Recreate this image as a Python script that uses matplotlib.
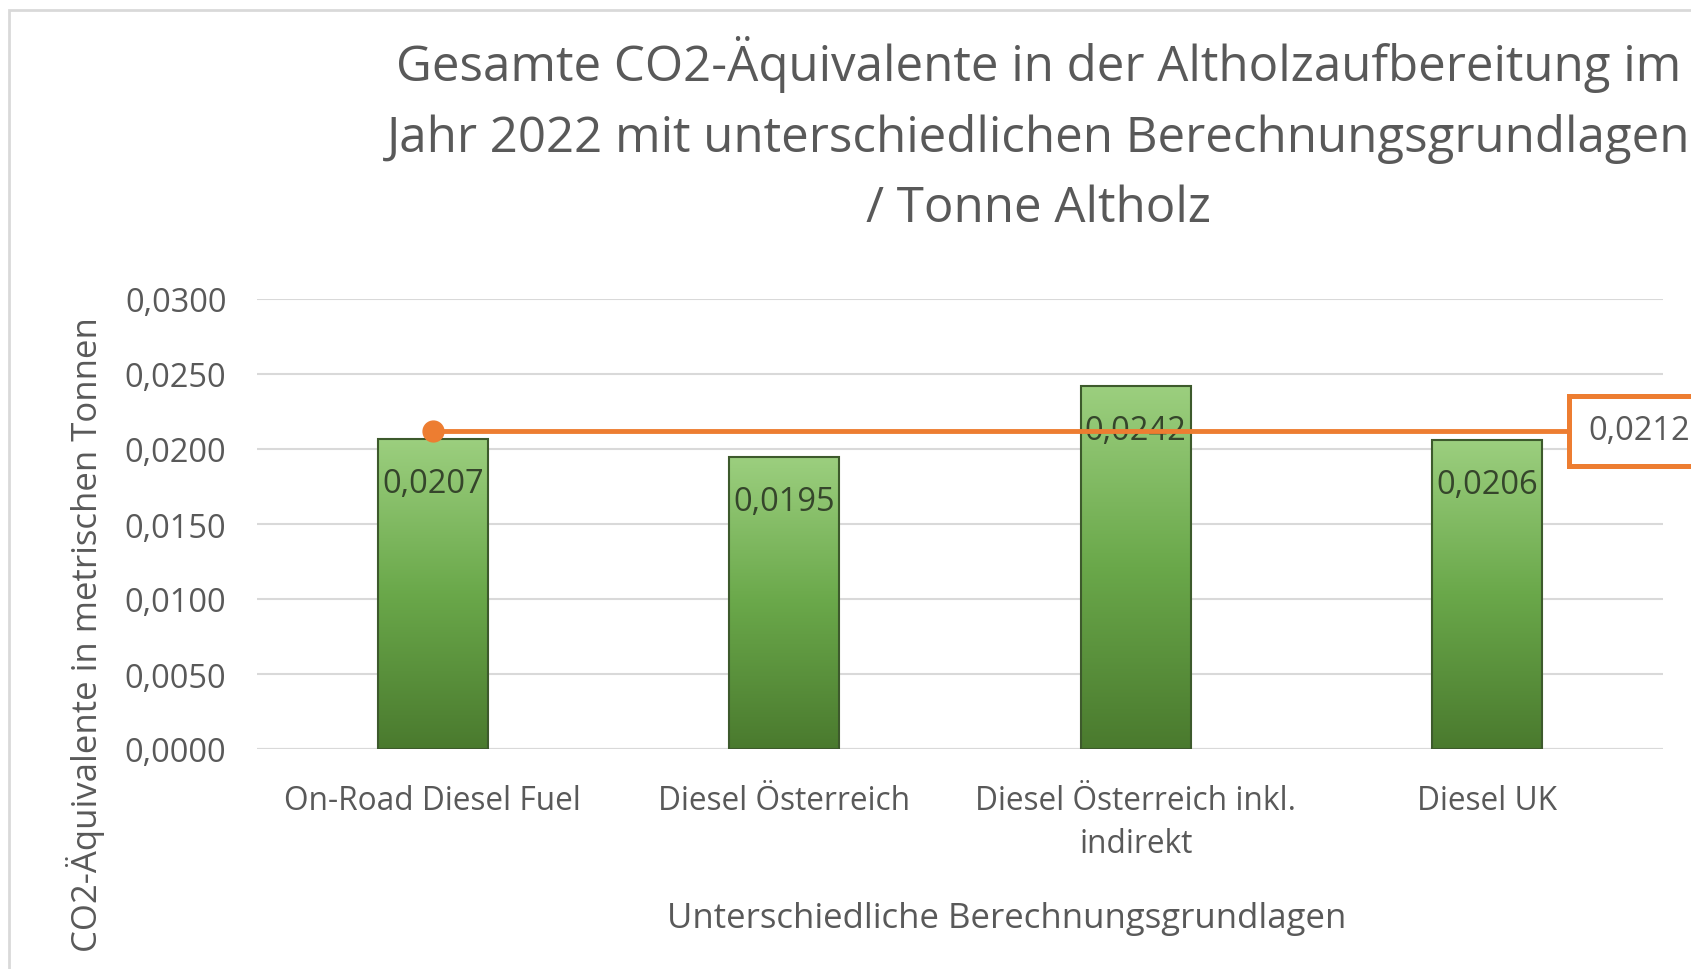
import numpy as np
import matplotlib.pyplot as plt
from matplotlib.patches import Rectangle
from matplotlib.colors import LinearSegmentedColormap

plt.rcParams['font.family'] = ['Open Sans', 'DejaVu Sans']

categories = ["On-Road Diesel Fuel", "Diesel Österreich", "Diesel Österreich inkl.\nindirekt", "Diesel UK"]
values = [0.0207, 0.0195, 0.0242, 0.0206]
average = 0.0212
value_labels = ["0,0207", "0,0195", "0,0242", "0,0206"]
average_label = "0,0212"
y_ticks = [0.0, 0.005, 0.010, 0.015, 0.020, 0.025, 0.030]
y_tick_labels = ["0,0000", "0,0050", "0,0100", "0,0150", "0,0200", "0,0250", "0,0300"]

title = ("Gesamte CO2-Äquivalente in der Altholzaufbereitung im\n"
         "Jahr 2022 mit unterschiedlichen Berechnungsgrundlagen\n"
         "/ Tonne Altholz")
x_title = "Unterschiedliche Berechnungsgrundlagen"
y_title = "CO2-Äquivalente in metrischen Tonnen"

text_grey = '#595959'
orange = '#ED7D31'
green_map = LinearSegmentedColormap.from_list('grn', ['#4a7a2e', '#6aa84a', '#9ccf7f'])

fig = plt.figure(figsize=(16.91, 9.70), dpi=100)
W, H = 1691, 970

# chart frame (cut off at right and bottom like the source)
fig.patches.append(Rectangle((9 / W, -0.1), 1.2, 1 - 11 / H + 0.1, transform=fig.transFigure,
                             fill=False, edgecolor='#d9d9d9', linewidth=2))

ax = fig.add_axes([257 / W, 1 - 750 / H, (1663 - 257) / W, 450 / H])
ax.set_xlim(-0.5, len(categories) - 0.5)
ax.set_ylim(0, 0.030)

for s in ax.spines.values():
    s.set_visible(False)
ax.set_yticks(y_ticks)
ax.set_yticklabels(y_tick_labels)
ax.grid(axis='y', color='#d9d9d9', linewidth=1.5)
ax.set_axisbelow(True)
ax.axhline(0, color='#d9d9d9', linewidth=1.5, zorder=1)
ax.tick_params(axis='y', length=0, labelsize=23.5, colors=text_grey, pad=22)
ax.tick_params(axis='x', length=0, labelsize=22.8, colors=text_grey, pad=25)

x = np.arange(len(categories))
ax.set_xticks(x)
ax.set_xticklabels(categories, linespacing=1.4)

bar_w = 0.313
grad = np.linspace(0, 1, 256).reshape(-1, 1)
bars = ax.bar(x, values, width=bar_w, facecolor='none', edgecolor='#3d5a2c', linewidth=1.5, zorder=3)
for b in bars:
    x0, y0 = b.get_x(), b.get_y()
    im = ax.imshow(grad, cmap=green_map, origin='lower', aspect='auto',
                   extent=[x0, x0 + b.get_width(), y0, y0 + b.get_height()], zorder=2)
    im.set_clip_path(b)

for xi, v, lab in zip(x, values, value_labels):
    ax.annotate(lab, (xi, v), xytext=(0, -45), textcoords='offset pixels',
                ha='center', va='center', fontsize=23.5, color='#35452b', zorder=4)

# average line
ax.plot([x[0], 3.24], [average, average], color=orange, linewidth=3.5, zorder=5,
        marker='o', markersize=15, markevery=[0], clip_on=False, solid_capstyle='butt')
ax.text(3.287, average, average_label, ha='left', va='center', fontsize=23.5, color=text_grey,
        zorder=6, clip_on=False,
        bbox=dict(boxstyle='square,pad=0.58', facecolor='white', edgecolor=orange, linewidth=3.6))

fig.text(1039 / W, 1 - 135 / H, title, ha='center', va='center', fontsize=35.5,
         color=text_grey, linespacing=1.54)
fig.text(1007 / W, 1 - 919 / H, x_title, ha='center', va='center', fontsize=25, color=text_grey)
fig.text(86 / W, 1 - 635 / H, y_title, ha='center', va='center', rotation=90,
         fontsize=25, color=text_grey)

fig.savefig('out.png', dpi=100)
